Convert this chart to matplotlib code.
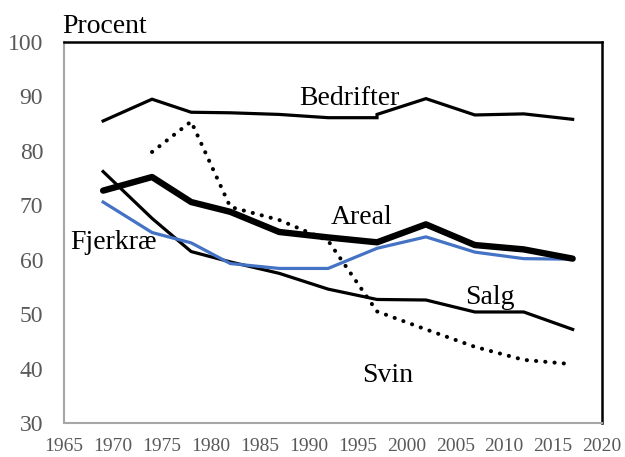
import matplotlib.pyplot as plt

plt.rcParams['font.family'] = ['Liberation Serif', 'DejaVu Serif']

# Data
years = [1969, 1974, 1978, 1982, 1987, 1992, 1997, 2002, 2007, 2012, 2017]
bedrifter_years = [1969, 1974, 1978, 1982, 1987, 1992, 1997, 1997, 2002, 2007, 2012, 2017]
bedrifter = [85.5, 89.5, 87.1, 87.0, 86.7, 86.1, 86.1, 86.7, 89.6, 86.6, 86.8, 85.8]
areal = [72.7, 75.2, 70.6, 68.8, 65.1, 64.1, 63.2, 66.5, 62.7, 61.9, 60.2]
salg = [76.2, 67.6, 61.5, 59.6, 57.5, 54.6, 52.7, 52.6, 50.4, 50.4, 47.2]
svin_years = [1974, 1978, 1982, 1987, 1992, 1997, 2002, 2007, 2012, 2017]
svin = [79.8, 85.4, 69.7, 67.3, 63.5, 50.5, 47.2, 44.0, 41.6, 40.8]
fjerkrae = [70.6, 65.0, 63.1, 59.3, 58.4, 58.4, 62.1, 64.2, 61.4, 60.2, 60.1]

xticks = list(range(1965, 2021, 5))
yticks = list(range(30, 101, 10))

fig = plt.figure(figsize=(6.25, 4.57), dpi=100)
ax = fig.add_axes([0.1024, 0.0744, 0.8608, 0.8336])

ax.plot(bedrifter_years, bedrifter, color='black', lw=2.3, solid_joinstyle='miter')
ax.plot(years, salg, color='black', lw=2.3)
ax.plot(svin_years, svin, color='black', lw=2.9, linestyle=(0, (0.05, 2.25)),
        dash_capstyle='round')
ax.plot(years, fjerkrae, color='#4472c4', lw=2.3)
ax.plot(years, areal, color='black', lw=4.6, solid_capstyle='round')

txt = dict(fontsize=20, color='black', ha='center', va='center')
ax.text(1994.2, 89.7, 'Bedrifter', **txt)
ax.text(1995.4, 67.7, 'Areal', **txt)
ax.text(1970.1, 63.2, 'Fjerkræ', **txt)
ax.text(2008.5, 53.0, 'Salg', **txt)
ax.text(1998.1, 38.8, 'Svin', **txt)
ax.text(1964.8, 100.6, 'Procent', fontsize=20, ha='left', va='bottom')

ax.set_xlim(1965, 2020)
ax.set_ylim(30, 100)
ax.set_xticks(xticks)
ax.set_yticks(yticks)
ax.tick_params(axis='x', length=0, pad=11, labelsize=14, labelcolor='#595959')
ax.tick_params(axis='y', length=0, pad=15, labelsize=17, labelcolor='#595959')

for s in ['left', 'bottom']:
    ax.spines[s].set_color('#a6a6a6')
    ax.spines[s].set_linewidth(1.5)
for s in ['top', 'right']:
    ax.spines[s].set_color('black')
    ax.spines[s].set_linewidth(1.8)

fig.savefig('out.png', dpi=100)
